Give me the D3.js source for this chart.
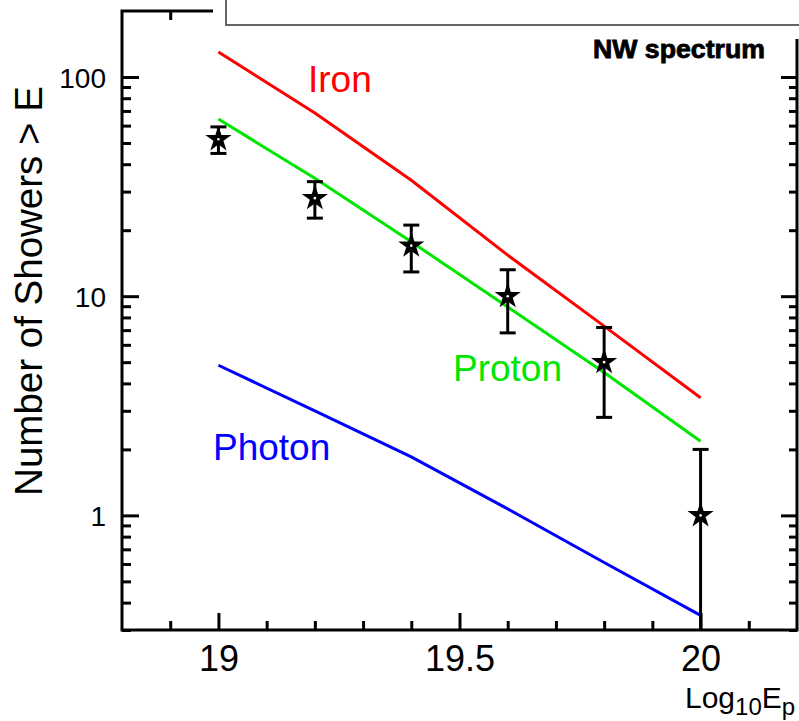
<!DOCTYPE html>
<html>
<head>
<meta charset="utf-8">
<script src="https://cdn.jsdelivr.net/npm/d3@7"></script>
<style>
  html, body { margin: 0; padding: 0; background: #fff; }
  svg { display: block; font-family: "Liberation Sans", Arial, Helvetica, sans-serif; }
</style>
</head>
<body>
<svg id="chart" width="799" height="721"></svg>
<script>
// Energy bins (log10 E) shared by the simulated curves and the measured points
const energies = [19.0, 19.2, 19.4, 19.6, 19.8, 20.0];

// Simulated integral spectra, showers above E
const ironCurve   = [130, 68.5, 33.8, 15.4, 7.3, 3.44];
const protonCurve = [64.3, 34.5, 17.7, 8.93, 4.49, 2.18];
const photonCurve = [4.84, 3.0, 1.85, 1.07, 0.61, 0.35];

// Measured counts with their error bar ends
const counts  = [52, 28, 17, 10, 5, 1];
const errHigh = [59.2, 33.3, 21.1, 13.2, 7.2, 2.0];
const errLow  = [44.8, 22.7, 12.9, 6.8, 2.8, 0];

// Axis ticks
const xMajorTicks = [19, 19.5, 20];
const xMinorTicks = [18.9, 19.1, 19.2, 19.3, 19.4, 19.6, 19.7, 19.8, 19.9, 20.1];
const yMajorTicks = [1, 10, 100];

const curveLabels = [
  { text: "Iron",   color: "#ff0000", x: 308, y: 92 },
  { text: "Proton", color: "#00e600", x: 453, y: 381 },
  { text: "Photon", color: "#0000ff", x: 213, y: 460 }
];

const svg = d3.select("#chart");
const plotLeft = 122, plotRight = 797, plotTop = 11, plotBottom = 630;

const x = d3.scaleLinear().domain([18.8, 20.2]).range([plotLeft, plotRight]);
const y = d3.scaleLog().domain([0.3, 200]).range([plotBottom, plotTop]);
const yMinor = y.ticks().filter(v => !yMajorTicks.includes(v) && v < 200);

function styleAxis(g) {
  g.select(".domain").remove();
  g.selectAll(".tick line").attr("stroke", "#000").attr("stroke-width", 3);
  g.selectAll("text").attr("fill", "#000");
}

// Bottom axis: labelled majors plus short minors, ticks pointing inward
svg.append("g").attr("transform", `translate(0,${plotBottom})`)
  .call(d3.axisBottom(x).tickValues(xMajorTicks).tickSize(-17).tickSizeOuter(0)
        .tickPadding(15).tickFormat(d3.format("~g")))
  .call(styleAxis)
  .call(g => g.selectAll("text").attr("font-size", 36));
svg.append("g").attr("transform", `translate(0,${plotBottom})`)
  .call(d3.axisBottom(x).tickValues(xMinorTicks).tickSize(-9).tickSizeOuter(0).tickFormat(""))
  .call(styleAxis);

// Top axis
svg.append("g").attr("transform", `translate(0,${plotTop})`)
  .call(d3.axisTop(x).tickValues(xMajorTicks).tickSize(-17).tickSizeOuter(0).tickFormat(""))
  .call(styleAxis);
svg.append("g").attr("transform", `translate(0,${plotTop})`)
  .call(d3.axisTop(x).tickValues(xMinorTicks).tickSize(-9).tickSizeOuter(0).tickFormat(""))
  .call(styleAxis);

// Left axis
svg.append("g").attr("transform", `translate(${plotLeft},0)`)
  .call(d3.axisLeft(y).tickValues(yMajorTicks).tickSize(-17).tickSizeOuter(0)
        .tickPadding(16).tickFormat(d3.format("d")))
  .call(styleAxis)
  .call(g => g.selectAll("text").attr("font-size", 28).attr("dy", "0.36em"));
svg.append("g").attr("transform", `translate(${plotLeft},0)`)
  .call(d3.axisLeft(y).tickValues(yMinor).tickSize(-9).tickSizeOuter(0).tickFormat(""))
  .call(styleAxis);

// Right axis
svg.append("g").attr("transform", `translate(${plotRight},0)`)
  .call(d3.axisRight(y).tickValues(yMajorTicks).tickSize(-16).tickSizeOuter(0).tickFormat(""))
  .call(styleAxis);
svg.append("g").attr("transform", `translate(${plotRight},0)`)
  .call(d3.axisRight(y).tickValues(yMinor).tickSize(-8).tickSizeOuter(0).tickFormat(""))
  .call(styleAxis);

// Frame
svg.append("rect")
  .attr("x", plotLeft).attr("y", plotTop)
  .attr("width", plotRight - plotLeft).attr("height", plotBottom - plotTop)
  .attr("fill", "none").attr("stroke", "#000").attr("stroke-width", 3);

// Header panel overlapping the top of the frame
svg.append("rect").attr("x", 213).attr("y", 0).attr("width", 600).attr("height", 39).attr("fill", "#fff");
svg.append("rect").attr("x", 226).attr("y", -4).attr("width", 600).attr("height", 29)
  .attr("fill", "#fff").attr("stroke", "#333").attr("stroke-width", 1.5);

// Simulated curves
const line = d3.line().x((d, i) => x(energies[i])).y(d => y(d));
[[ironCurve, "#ff0000"], [protonCurve, "#00e600"], [photonCurve, "#0000ff"]].forEach(([data, color]) => {
  svg.append("path").datum(data)
    .attr("d", line)
    .attr("fill", "none").attr("stroke", color).attr("stroke-width", 3);
});

// Curve labels
svg.selectAll("text.curve-label").data(curveLabels).join("text")
  .attr("class", "curve-label")
  .attr("x", d => d.x).attr("y", d => d.y)
  .attr("fill", d => d.color).attr("font-size", 37)
  .text(d => d.text);

// Measured points: error bars and star markers
const yClamp = v => y(Math.max(v, y.domain()[0]));
const capHalf = 8;
const pts = svg.append("g");
counts.forEach((c, i) => {
  const cx = x(energies[i]);
  const yh = yClamp(errHigh[i]), yl = yClamp(errLow[i]);
  pts.append("line").attr("x1", cx).attr("x2", cx).attr("y1", yh).attr("y2", yl)
    .attr("stroke", "#000").attr("stroke-width", 3);
  pts.append("line").attr("x1", cx - capHalf).attr("x2", cx + capHalf).attr("y1", yh).attr("y2", yh)
    .attr("stroke", "#000").attr("stroke-width", 3);
  if (errLow[i] > y.domain()[0]) {
    pts.append("line").attr("x1", cx - capHalf).attr("x2", cx + capHalf).attr("y1", yl).attr("y2", yl)
      .attr("stroke", "#000").attr("stroke-width", 3);
  }
  pts.append("path")
    .attr("d", d3.symbol(d3.symbolStar).size(125)())
    .attr("transform", `translate(${cx},${y(c)})`)
    .attr("fill", "#000").attr("stroke", "#000").attr("stroke-width", 2)
    .attr("stroke-linejoin", "miter");
  pts.append("circle").attr("cx", cx).attr("cy", y(c)).attr("r", 1.3).attr("fill", "#fff");
});

// Axis titles
svg.append("text")
  .attr("transform", "translate(42,291) rotate(-90)")
  .attr("text-anchor", "middle").attr("font-size", 38.5).attr("fill", "#000")
  .text("Number of Showers > E");

const xt = svg.append("text").attr("x", 685).attr("y", 708).attr("font-size", 30).attr("fill", "#000");
xt.append("tspan").text("Log");
xt.append("tspan").attr("font-size", 24).attr("dy", 7).text("10");
xt.append("tspan").attr("dy", -7).text("E");
xt.append("tspan").attr("font-size", 24).attr("dy", 7).text("p");

// Panel tag
svg.append("text")
  .attr("x", 593).attr("y", 58)
  .attr("font-size", 25).attr("font-weight", "bold").attr("fill", "#000")
  .attr("stroke", "#000").attr("stroke-width", 0.8)
  .attr("textLength", 172).attr("lengthAdjust", "spacingAndGlyphs")
  .text("NW spectrum");
</script>
</body>
</html>
